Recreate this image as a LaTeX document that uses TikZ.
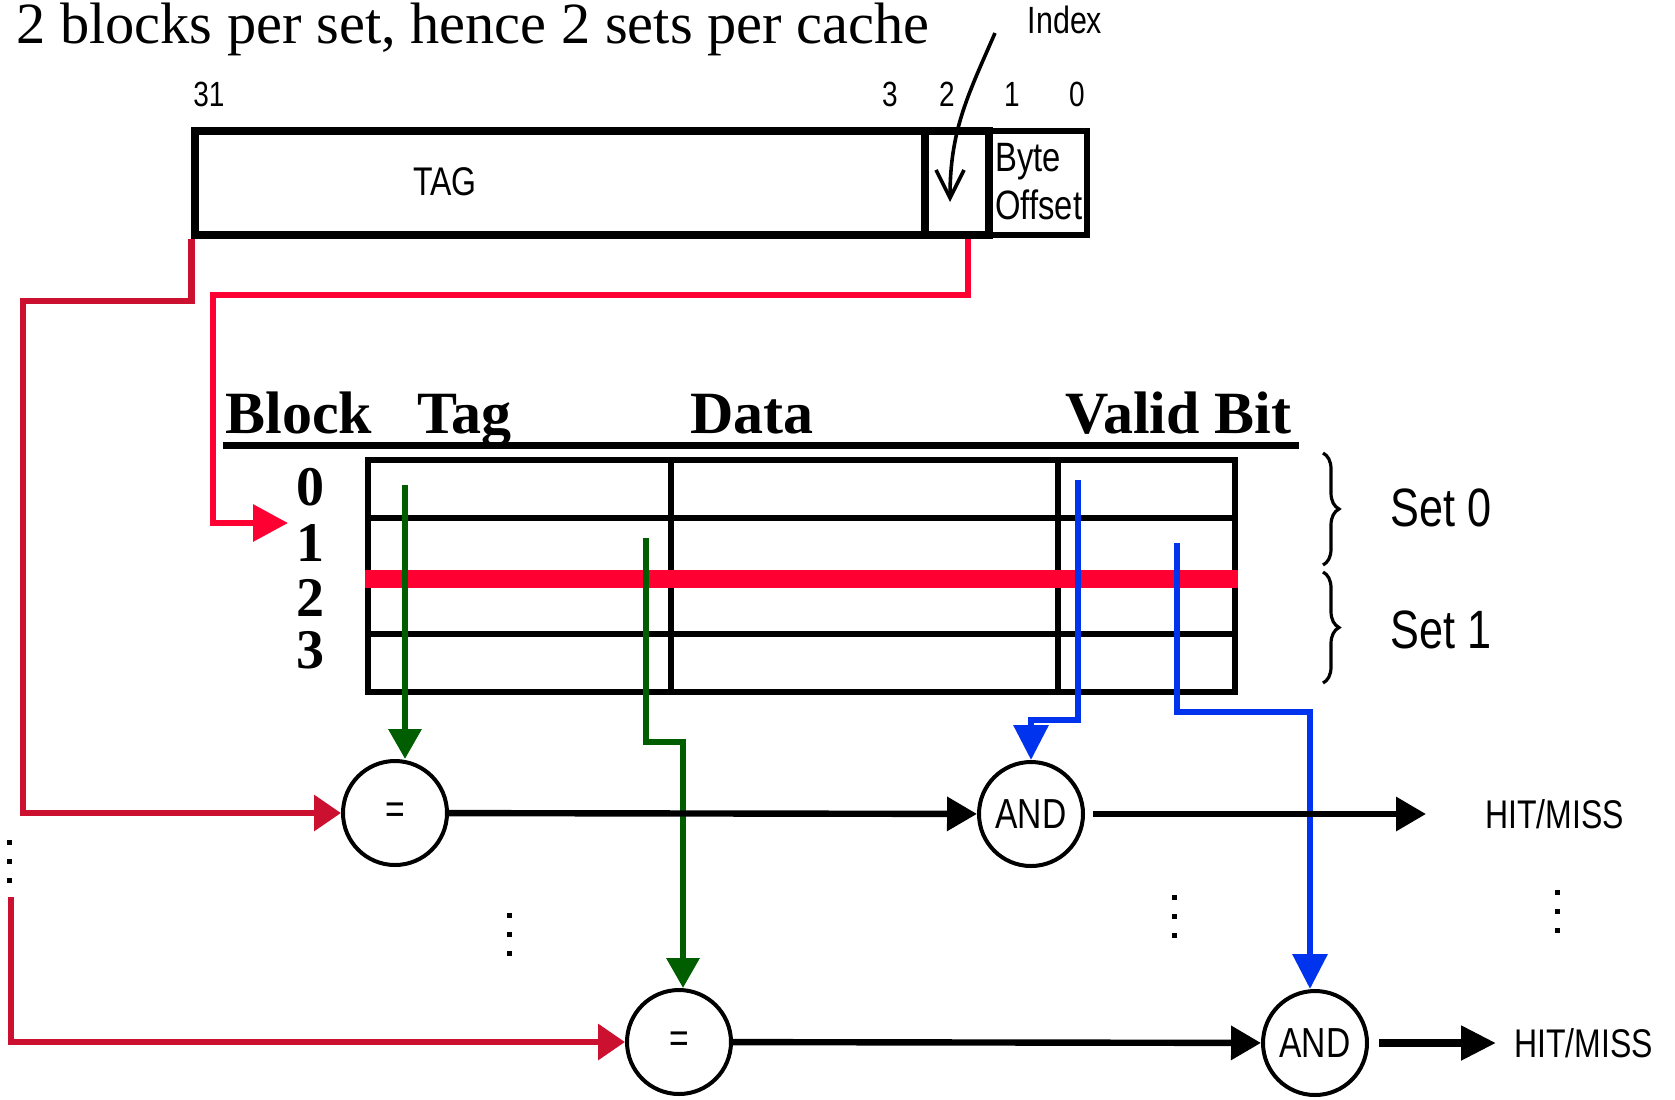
\documentclass[tikz,border=0pt]{standalone}
\usepackage{fontspec}
\setmainfont{Liberation Serif}
\newfontfamily\narrowsf[FakeStretch=0.8]{Liberation Sans}
\usetikzlibrary{arrows.meta}
\usetikzlibrary{calc}
\usetikzlibrary{decorations.pathreplacing}
\definecolor{tagred}{RGB}{204,16,48}
\definecolor{idxred}{RGB}{255,0,51}
\definecolor{cmpgreen}{RGB}{0,94,0}
\definecolor{vldblue}{RGB}{0,51,238}

\begin{document}
\begin{tikzpicture}[x=0.5pt,y=-0.5pt,line join=miter]
\tikzstyle{lbl}=[font=\narrowsf,inner sep=0pt]
\tikzstyle{field}=[draw,line width=3.6pt,inner sep=0pt,minimum height=52pt]
\tikzstyle{cell}=[draw,line width=3.2pt,inner sep=0pt,minimum height=29pt]
\tikzstyle{hdr}=[font=\fontsize{30}{30}\selectfont\bfseries,inner sep=0pt,anchor=base west]
\tikzstyle{gate}=[circle,draw,line width=2pt,minimum size=52pt,inner sep=0pt,font=\narrowsf\fontsize{21}{21}\selectfont]
\tikzstyle{wire}=[line width=3.2pt]
\tikzstyle{tagwire}=[wire,draw=tagred,-{Triangle[length=13.5pt,width=17.5pt]}]
\tikzstyle{idxwire}=[wire,draw=idxred,-{Triangle[length=17.5pt,width=18pt]}]
\tikzstyle{cmpwire}=[wire,draw=cmpgreen,-{Triangle[length=15pt,width=16pt]}]
\tikzstyle{vldwire}=[wire,draw=vldblue,-{Triangle[length=17.5pt,width=17pt]}]
\tikzstyle{bwire}=[wire,-{Triangle[length=15pt,width=16.5pt]}]
\tikzstyle{setbrace}=[decorate,decoration={brace,amplitude=8pt},line width=1.6pt]

\useasboundingbox (0,0) rectangle (1675,1099);

\node[anchor=base west,inner sep=0pt,font=\fontsize{29.2}{30}\selectfont] (title) at (16,43) {2 blocks per set, hence 2 sets per cache};

% address fields
\node[field,minimum width=365pt] (tagf) at (560,183) {};
\node[field,minimum width=32pt] (idx) at (957,183) {};
\node[field,minimum width=49pt,line width=2.8pt] (offs) at (1038,183) {};
\node[lbl,font=\narrowsf\fontsize{20}{20}\selectfont] (taglbl) at (445,182) {TAG};
\node[lbl,font=\narrowsf\fontsize{20.5}{24}\selectfont,align=left,anchor=west] (offlbl) at (995,182) {Byte\\Offset};
\foreach \x/\b in {209/31,890/3,947/2,1012/1,1077/0}
  \node[lbl,font=\narrowsf\fontsize{17.5}{18}\selectfont] (bit\b) at (\x,94) {\b};
\node[lbl,font=\narrowsf\fontsize{19}{19}\selectfont] (idxlbl) at (1065,20) {Index};
\coordinate (idxtail) at (995,33);
\coordinate (idxtip) at (950,202);
\draw[line width=1.8pt,-{Straight Barb[length=14pt,width=14pt]}] (idxtail) .. controls (968,95) and (950,130) .. (idxtip);

% cache table
\node[hdr] (hblock) at (225,433) {Block};
\node[hdr] (htag) at (417,433) {Tag};
\node[hdr] (hdata) at (690,433) {Data};
\node[hdr] (hvalid) at (1065,433) {Valid Bit};
\draw[line width=3.5pt] (223,445) -- (1299,445);
\foreach \r in {0,...,3} {
  \node[cell,minimum width=151.5pt] (tg\r) at (519.5,{489+58*\r}) {};
  \node[cell,minimum width=193.5pt] (dt\r) at (864.5,{489+58*\r}) {};
  \node[cell,minimum width=88.5pt] (vl\r) at (1146.5,{489+58*\r}) {};
}
\foreach \r/\y in {0/487,1/543,2/598,3/650}
  \node[hdr,anchor=center,font=\fontsize{28}{28}\selectfont\bfseries] (blk\r) at (310,\y) {\r};
\draw[idxred,line width=9pt] (tg1.south west) -- (vl1.south east);

\draw[setbrace] (1323,453) -- (1323,565);
\draw[setbrace] (1323,572) -- (1323,683);
\node[lbl,font=\narrowsf\fontsize{27}{27}\selectfont,anchor=west] (set0) at (1390,508) {Set 0};
\node[lbl,font=\narrowsf\fontsize{27}{27}\selectfont,anchor=west] (set1) at (1390,630) {Set 1};

% comparators
\node[gate] (eq0) at (395,813) {=};
\node[gate] (and0) at (1031,814) {AND};
\node[gate] (eq1) at (679,1042) {=};
\node[gate] (and1) at (1315,1043) {AND};
\node[lbl,font=\narrowsf\fontsize{20}{20}\selectfont,anchor=west] (hit0) at (1485,814) {HIT/MISS};
\node[lbl,font=\narrowsf\fontsize{20}{20}\selectfont,anchor=west] (hit1) at (1514,1043) {HIT/MISS};

\coordinate (tbus) at (23,301);
\coordinate (tbus2) at (11,897);
\draw[tagwire] (tagf.south west) |- (tbus) |- (eq0.west);
\draw[tagwire] (tbus2) |- (eq1.west);
\coordinate (ibus) at (213,295);
\coordinate (blkin) at (288,523);
\draw[idxwire] ([xshift=5.5pt]idx.south) |- (ibus) |- (blkin);

\coordinate (g0) at (405,485);
\coordinate (g1) at (646,538);
\coordinate (g1k) at (683,742);
\draw[cmpwire] (g0) -- (g0 |- eq0.north);
\draw[cmpwire] (g1) |- (g1k) -- (g1k |- eq1.north);
\coordinate (v0) at (1078,480);
\coordinate (v0k) at (1031,720);
\coordinate (v1) at (1177,543);
\coordinate (v1k) at (1310,712);
\draw[vldwire] (v0) |- (v0k) -- (and0.north);
\draw[vldwire] (v1) |- (v1k) -- (v1k |- and1.north);

\draw[bwire] (eq0) -- (and0);
\draw[bwire,shorten <=4pt,shorten >=29.5pt] (and0) -- (hit0);
\draw[bwire] (eq1) -- (and1);
\draw[bwire,line width=4pt,shorten <=5pt,shorten >=9pt,-{Triangle[length=17.5pt,width=16.5pt]}] (and1) -- (hit1);

\foreach \x/\y in {9/840,509/913,1174/895,1557/890}
  \foreach \k in {0,1,2}
    \fill ({\x-2.5},{\y+19*\k}) rectangle ++(5,5);
\end{tikzpicture}
\end{document}
